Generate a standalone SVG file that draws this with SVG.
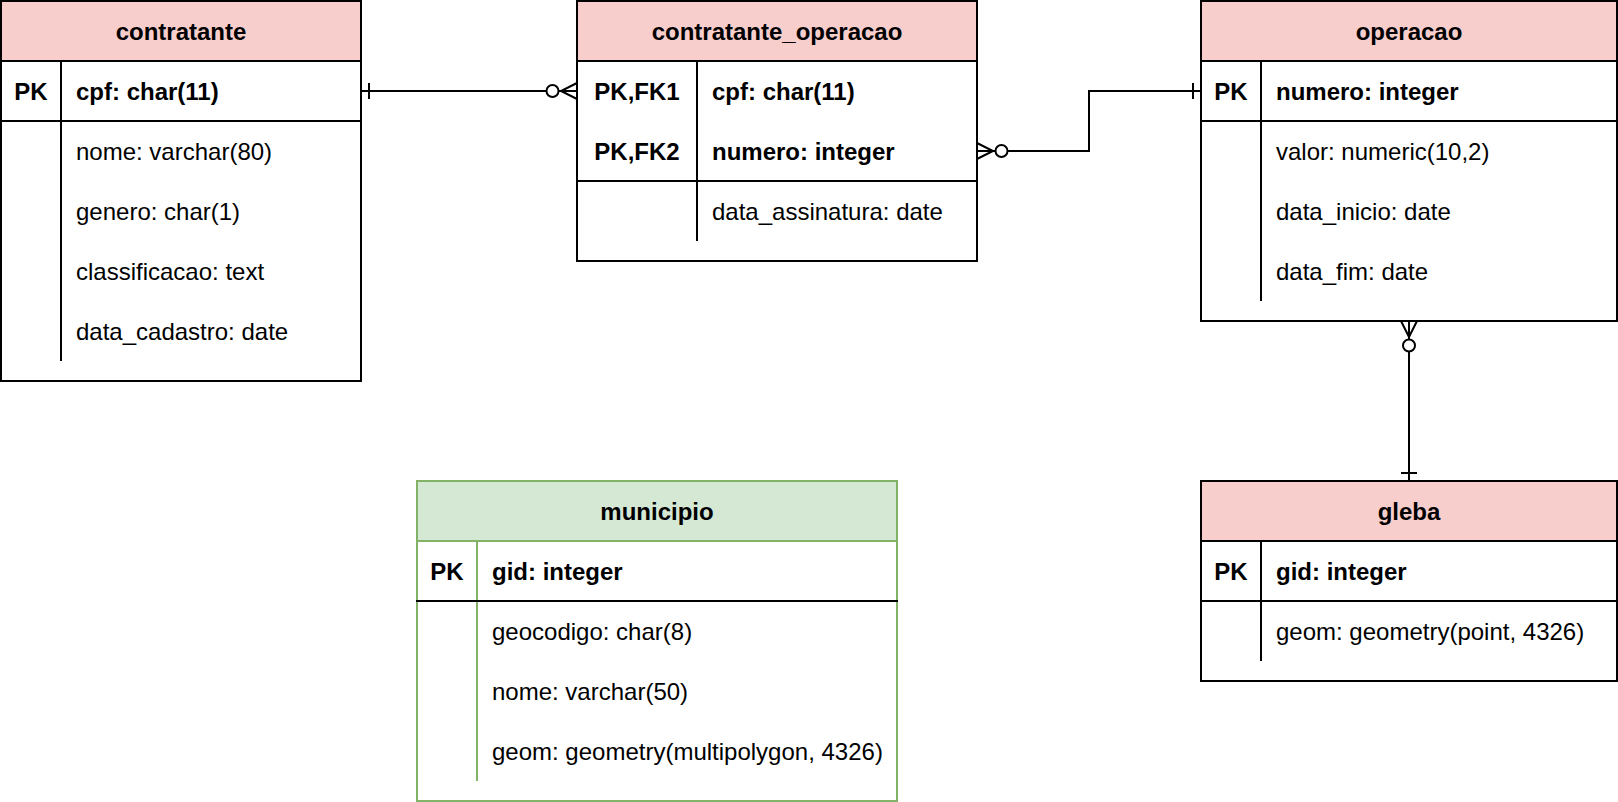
<svg xmlns="http://www.w3.org/2000/svg" width="1618" height="802" viewBox="0 0 1618 802">
<style>
.box{fill:#ffffff;stroke:#000000;stroke-width:2}
.hdr{fill:#f8cecc;stroke:#000000;stroke-width:2}
.gbox{fill:#ffffff;stroke:#82b366;stroke-width:2}
.ghdr{fill:#d5e8d4;stroke:#82b366;stroke-width:2}
.ln{stroke:#000000;stroke-width:2;fill:none}
.gln{stroke:#82b366;stroke-width:2;fill:none}
text{font-family:"Liberation Sans",Arial,sans-serif;font-size:24px;fill:#000000;dominant-baseline:central}
.t{font-weight:bold;text-anchor:middle}
.b{font-weight:bold}
.k{font-weight:bold;text-anchor:middle}
.c{stroke:#000000;stroke-width:2;fill:none}
.o{stroke:#000000;stroke-width:2;fill:#ffffff}
</style>
<g id="contratante">
<rect class="box" x="1" y="1" width="360" height="380"/>
<rect class="hdr" x="1" y="1" width="360" height="60"/>
<text class="t" x="181" y="31">contratante</text>
<line class="ln" x1="0" y1="121" x2="362" y2="121"/>
<line class="ln" x1="61" y1="61" x2="61" y2="361"/>
<text class="k" x="31" y="91">PK</text>
<text class="b" x="76" y="91">cpf: char(11)</text>
<text x="76" y="151">nome: varchar(80)</text>
<text x="76" y="211">genero: char(1)</text>
<text x="76" y="271">classificacao: text</text>
<text x="76" y="331">data_cadastro: date</text>
</g>
<g id="contratante_operacao">
<rect class="box" x="577" y="1" width="400" height="260"/>
<rect class="hdr" x="577" y="1" width="400" height="60"/>
<text class="t" x="777" y="31">contratante_operacao</text>
<line class="ln" x1="576" y1="181" x2="978" y2="181"/>
<line class="ln" x1="697" y1="61" x2="697" y2="241"/>
<text class="k" x="637" y="91">PK,FK1</text>
<text class="b" x="712" y="91">cpf: char(11)</text>
<text class="k" x="637" y="151">PK,FK2</text>
<text class="b" x="712" y="151">numero: integer</text>
<text x="712" y="211">data_assinatura: date</text>
</g>
<g id="operacao">
<rect class="box" x="1201" y="1" width="416" height="320"/>
<rect class="hdr" x="1201" y="1" width="416" height="60"/>
<text class="t" x="1409" y="31">operacao</text>
<line class="ln" x1="1200" y1="121" x2="1618" y2="121"/>
<line class="ln" x1="1261" y1="61" x2="1261" y2="301"/>
<text class="k" x="1231" y="91">PK</text>
<text class="b" x="1276" y="91">numero: integer</text>
<text x="1276" y="151">valor: numeric(10,2)</text>
<text x="1276" y="211">data_inicio: date</text>
<text x="1276" y="271">data_fim: date</text>
</g>
<g id="municipio">
<rect class="gbox" x="417" y="481" width="480" height="320"/>
<rect class="ghdr" x="417" y="481" width="480" height="60"/>
<text class="t" x="657" y="511">municipio</text>
<line class="gln" x1="477" y1="541" x2="477" y2="781"/>
<line class="ln" x1="416" y1="601" x2="898" y2="601"/>
<text class="k" x="447" y="571">PK</text>
<text class="b" x="492" y="571">gid: integer</text>
<text x="492" y="631">geocodigo: char(8)</text>
<text x="492" y="691">nome: varchar(50)</text>
<text x="492" y="751">geom: geometry(multipolygon, 4326)</text>
</g>
<g id="gleba">
<rect class="box" x="1201" y="481" width="416" height="200"/>
<rect class="hdr" x="1201" y="481" width="416" height="60"/>
<text class="t" x="1409" y="511">gleba</text>
<line class="ln" x1="1200" y1="601" x2="1618" y2="601"/>
<line class="ln" x1="1261" y1="541" x2="1261" y2="661"/>
<text class="k" x="1231" y="571">PK</text>
<text class="b" x="1276" y="571">gid: integer</text>
<text x="1276" y="631">geom: geometry(point, 4326)</text>
</g>
<g id="connectors">
<!-- contratante to contratante_operacao -->
<path class="c" d="M361 91 H577"/>
<path class="c" d="M369 83 V99"/>
<path class="c" d="M577 83 L561 91 L577 99"/>
<circle class="o" cx="552.5" cy="91" r="6"/>
<!-- contratante_operacao to operacao -->
<path class="c" d="M977 151 H1089 V91 H1201"/>
<path class="c" d="M1193 83 V99"/>
<path class="c" d="M977 143 L993 151 L977 159"/>
<circle class="o" cx="1001.5" cy="151" r="6"/>
<!-- operacao to gleba -->
<path class="c" d="M1409 321 V481"/>
<path class="c" d="M1401 321 L1409 337 L1417 321"/>
<circle class="o" cx="1409" cy="345.5" r="6"/>
<path class="c" d="M1401 473 H1417"/>
</g>
</svg>
